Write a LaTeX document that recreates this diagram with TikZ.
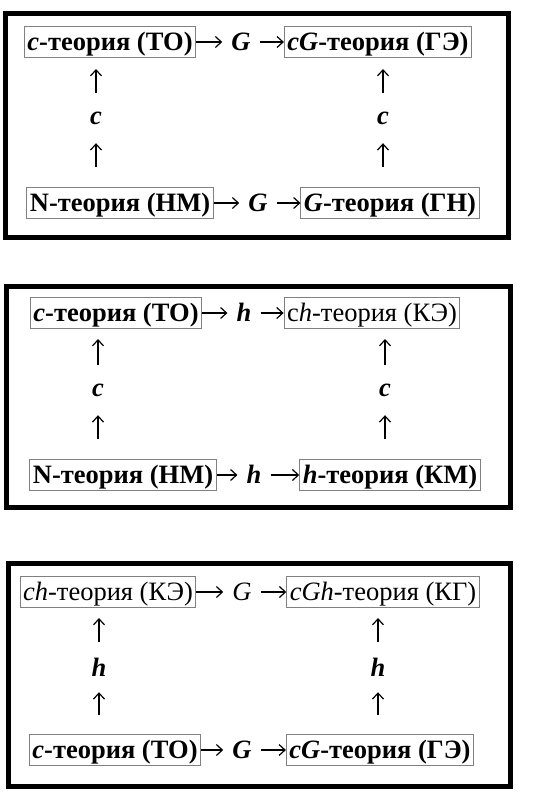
\documentclass[tikz,border=0pt]{standalone}
\usepackage{fontspec}
\setmainfont{Liberation Serif}
\usetikzlibrary{positioning,arrows.meta}

\begin{document}
\begin{tikzpicture}[x=1pt, y=-1pt, font={\fontsize{26.5}{32}\selectfont},
  main/.style = {draw=gray, line width=1pt, inner xsep=3pt, inner ysep=2pt, text height=22pt, text depth=5pt},
  lbl/.style = {inner xsep=9pt, text height=22pt, text depth=5pt},
  vlbl/.style = {minimum height=50pt},
  arr/.style = {line width=1.2pt, -{Straight Barb[length=6pt,width=11pt]}},
  frame/.style = {line width=5pt}]
\useasboundingbox (0,0) rectangle (542,796);
% panel 1
\draw[frame] (5,13) rectangle (508,237);
\node[main] (1) at (110,42) {\bfseries\textit{c}-теория (ТО)};
\node[lbl] (2) at (241,42) {\bfseries\itshape G};
\node[main] (3) at (378,42) {\bfseries\textit{cG}-теория (ГЭ)};
\node[main] (4) at (120,203) {\bfseries N-теория (НМ)};
\node[lbl] (5) at (258,203) {\bfseries\itshape G};
\node[main] (6) at (390,203) {\bfseries\textit{G}-теория (ГН)};
\node[vlbl] (7) at (96,118) {\bfseries\itshape c};
\node[vlbl] (8) at (383,118) {\bfseries\itshape c};
\draw[arr] (1) -- (2);
\draw[arr] (2) -- (3);
\draw[arr] (4) -- (5);
\draw[arr] (5) -- (6);
\draw[arr, shorten <=20pt] (7 |- 4.north) -- (7);
\draw[arr, shorten >=11pt] (7) -- (7 |- 1.south);
\draw[arr, shorten <=20pt] (8 |- 6.north) -- (8);
\draw[arr, shorten >=11pt] (8) -- (8 |- 3.south);
% panel 2
\draw[frame] (6,286) rectangle (510,507);
\node[main] (9) at (116,313) {\bfseries\textit{c}-теория (ТО)};
\node[lbl] (10) at (244,313) {\bfseries\itshape h};
\node[main] (11) at (372,313) {c\textit{h}-теория (КЭ)};
\node[main] (12) at (123,475) {\bfseries N-теория (НМ)};
\node[lbl] (13) at (254,475) {\bfseries\itshape h};
\node[main] (14) at (390,475) {\bfseries\textit{h}-теория (КМ)};
\node[vlbl] (15) at (98,390) {\bfseries\itshape c};
\node[vlbl] (16) at (385,390) {\bfseries\itshape c};
\draw[arr] (9) -- (10);
\draw[arr] (10) -- (11);
\draw[arr] (12) -- (13);
\draw[arr] (13) -- (14);
\draw[arr, shorten <=20pt] (15 |- 12.north) -- (15);
\draw[arr, shorten >=10pt] (15) -- (15 |- 9.south);
\draw[arr, shorten <=20pt] (16 |- 14.north) -- (16);
\draw[arr, shorten >=10pt] (16) -- (16 |- 11.south);
% panel 3
\draw[frame] (8,563) rectangle (510,786);
\node[main] (17) at (108,592) {\textit{ch}-теория (КЭ)};
\node[lbl] (18) at (242,592) {\itshape G};
\node[main] (19) at (383,592) {\textit{cGh}-теория (КГ)};
\node[main] (20) at (115,750) {\bfseries\textit{c}-теория (ТО)};
\node[lbl] (21) at (242,750) {\bfseries\itshape G};
\node[main] (22) at (380,750) {\bfseries\textit{cG}-теория (ГЭ)};
\node[vlbl] (23) at (99,667) {\bfseries\itshape h};
\node[vlbl] (24) at (378,667) {\bfseries\itshape h};
\draw[arr] (17) -- (18);
\draw[arr] (18) -- (19);
\draw[arr] (20) -- (21);
\draw[arr] (21) -- (22);
\draw[arr, shorten <=19pt] (23 |- 20.north) -- (23);
\draw[arr, shorten >=10pt] (23) -- (23 |- 17.south);
\draw[arr, shorten <=19pt] (24 |- 22.north) -- (24);
\draw[arr, shorten >=10pt] (24) -- (24 |- 19.south);
\end{tikzpicture}
\end{document}
